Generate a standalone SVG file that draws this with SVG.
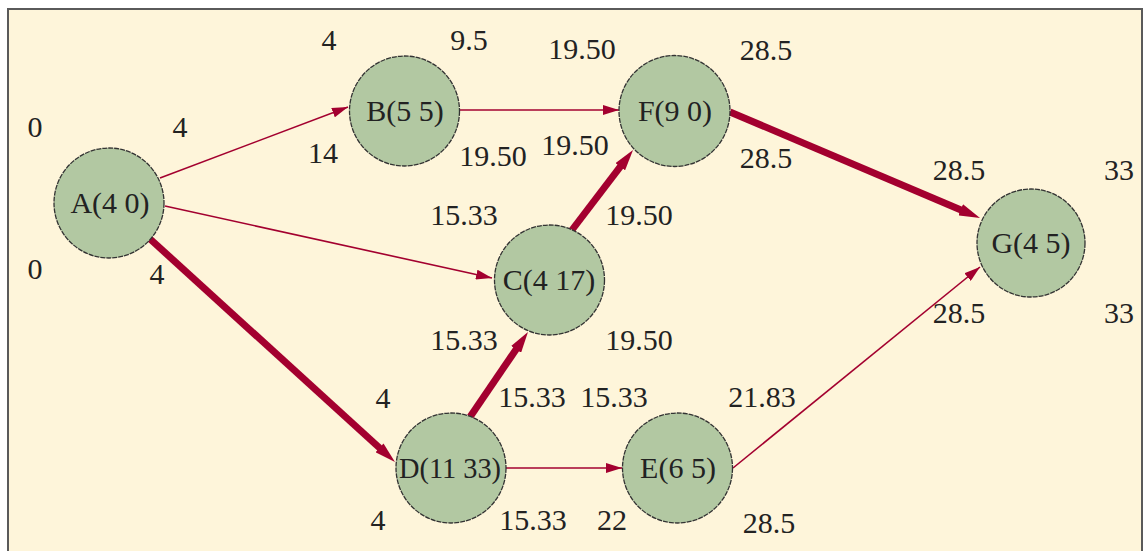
<svg xmlns="http://www.w3.org/2000/svg" width="1144" height="551" viewBox="0 0 1144 551">
<style>
.lbl{font-family:"Liberation Serif","Times New Roman",serif;font-size:30px;fill:#222;text-anchor:middle}
.node circle{fill:#B2C8A2;stroke:#333;stroke-width:1.3;stroke-dasharray:5 1}
.thin{stroke:#A3002F;stroke-width:1.6;fill:none;marker-end:url(#ah)}
.thick{stroke:#A3002F;stroke-width:7;fill:none;marker-end:url(#ahb)}
</style>
<defs>
<marker id="ah" markerUnits="userSpaceOnUse" markerWidth="16" markerHeight="10" refX="16" refY="5" orient="auto"><path d="M0,0 L16,5 L0,10 Z" fill="#A3002F"/></marker>
<marker id="ahb" markerUnits="userSpaceOnUse" markerWidth="21" markerHeight="12" refX="1" refY="6" orient="auto"><path d="M0,0 L21,6 L0,12 Z" fill="#A3002F"/></marker>
</defs>
<rect x="0" y="0" width="1144" height="551" fill="#fff"/>
<rect x="8" y="9" width="1134" height="560" fill="#FEF5DA" stroke="#5a5a5a" stroke-width="2"/>
<g id="connectors">
<line class="thin" x1="160" y1="178" x2="348" y2="107"/>
<line class="thin" x1="165" y1="206" x2="492" y2="278"/>
<line class="thin" x1="460" y1="110" x2="619" y2="110"/>
<line class="thin" x1="506" y1="468" x2="622" y2="468"/>
<line class="thin" x1="733" y1="468" x2="980" y2="267"/>
<line class="thick" x1="149" y1="238" x2="380.2" y2="448.5"/>
<line class="thick" x1="572" y1="230" x2="620.9" y2="165.9"/>
<line class="thick" x1="730" y1="112" x2="961.6" y2="210.2"/>
<line class="thick" x1="470" y1="417" x2="516.7" y2="348.5"/>
</g>
<g id="nodeA" class="node"><circle cx="109" cy="203" r="55"/><text class="lbl" x="110" y="213">A(4 0)</text></g>
<g id="nodeB" class="node"><circle cx="404.5" cy="111" r="55"/><text class="lbl" x="405" y="121">B(5 5)</text></g>
<g id="nodeF" class="node"><circle cx="674.5" cy="111" r="55.5"/><text class="lbl" x="675" y="121">F(9 0)</text></g>
<g id="nodeC" class="node"><circle cx="549.5" cy="280" r="55"/><text class="lbl" x="549" y="290">C(4 17)</text></g>
<g id="nodeD" class="node"><circle cx="451" cy="468" r="55"/><text class="lbl" x="450" y="478" textLength="102" lengthAdjust="spacingAndGlyphs">D(11 33)</text></g>
<g id="nodeE" class="node"><circle cx="677.5" cy="468" r="55"/><text class="lbl" x="678" y="478">E(6 5)</text></g>
<g id="nodeG" class="node"><circle cx="1031" cy="243" r="54"/><text class="lbl" x="1031" y="253">G(4 5)</text></g>
<g id="labels">
<text class="lbl" x="35" y="137">0</text>
<text class="lbl" x="180" y="137">4</text>
<text class="lbl" x="329" y="50">4</text>
<text class="lbl" x="323" y="163">14</text>
<text class="lbl" x="35" y="279">0</text>
<text class="lbl" x="157" y="284">4</text>
<text class="lbl" x="469" y="50">9.5</text>
<text class="lbl" x="582" y="59">19.50</text>
<text class="lbl" x="493" y="166">19.50</text>
<text class="lbl" x="575" y="155">19.50</text>
<text class="lbl" x="464" y="225">15.33</text>
<text class="lbl" x="639" y="225">19.50</text>
<text class="lbl" x="766" y="60">28.5</text>
<text class="lbl" x="766" y="168">28.5</text>
<text class="lbl" x="959" y="180">28.5</text>
<text class="lbl" x="1119" y="180">33</text>
<text class="lbl" x="959" y="323">28.5</text>
<text class="lbl" x="1119" y="323">33</text>
<text class="lbl" x="464" y="350">15.33</text>
<text class="lbl" x="639" y="350">19.50</text>
<text class="lbl" x="383" y="408">4</text>
<text class="lbl" x="378" y="530">4</text>
<text class="lbl" x="532" y="407">15.33</text>
<text class="lbl" x="614" y="407">15.33</text>
<text class="lbl" x="762" y="407">21.83</text>
<text class="lbl" x="533" y="530">15.33</text>
<text class="lbl" x="612" y="530">22</text>
<text class="lbl" x="769" y="533">28.5</text>
</g>
</svg>
